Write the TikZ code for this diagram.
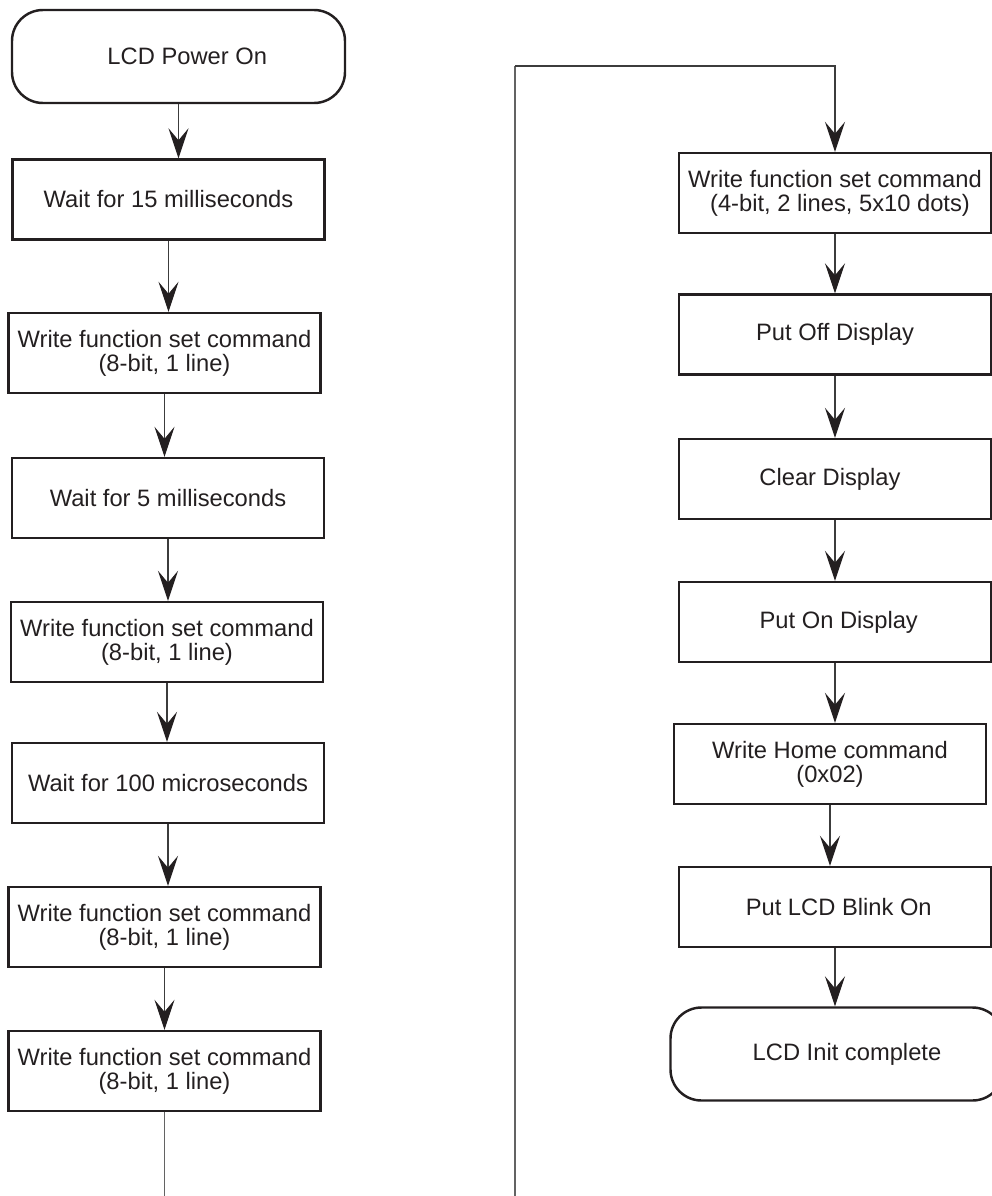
\documentclass[tikz,border=0pt]{standalone}
\usepackage{fontspec}
\setmainfont{Liberation Sans}
\usetikzlibrary{arrows.meta}
\definecolor{lcd-ink}{HTML}{231F20}
\definecolor{lcd-line}{HTML}{3C3C3C}

\begin{document}
\begin{tikzpicture}[
    procbox/.style={draw=lcd-ink, line width=1.4pt, minimum width=6.24cm, minimum height=1.6cm,
        inner sep=0pt, align=center, text=lcd-ink, font=\fontsize{13.5}{13.8}\selectfont},
    termbox/.style={procbox, rounded corners=0.62cm, minimum width=6.66cm, minimum height=1.86cm},
    flow/.style={draw=lcd-line, line width=0.6pt,
        -{Stealth[length=6mm, width=4mm, inset=2.4mm, color=lcd-ink]}},
    wire/.style={draw=lcd-line!80, line width=0.7pt}
]

    \useasboundingbox (0,0) rectangle (19.84,-23.92);

    % Left column
    \node[termbox] (pwr) at (3.57,-1.13) {\hspace*{0.35cm}LCD Power On};
    \node[procbox] (w15) at (3.37,-3.99) {Wait for 15 milliseconds};
    \node[procbox] (set1) at (3.29,-7.06) {Write function set command\\(8-bit, 1 line)};
    \node[procbox] (w5) at (3.36,-9.96) {Wait for 5 milliseconds};
    \node[procbox] (set2) at (3.34,-12.84) {Write function set command\\(8-bit, 1 line)};
    \node[procbox] (w100) at (3.36,-15.66) {Wait for 100 microseconds};
    \node[procbox] (set3) at (3.29,-18.54) {Write function set command\\(8-bit, 1 line)};
    \node[procbox] (set4) at (3.29,-21.42) {Write function set command\\(8-bit, 1 line)};

    % Right column
    \node[procbox] (set5) at (16.70,-3.86) {Write function set command\\\hspace*{0.2cm}(4-bit, 2 lines, 5x10 dots)};
    \node[procbox] (off) at (16.70,-6.69) {Put Off Display};
    \node[procbox] (clear) at (16.70,-9.58) {\hspace*{-0.2cm}Clear Display};
    \node[procbox] (on) at (16.70,-12.44) {\hspace*{0.15cm}Put On Display};
    \node[procbox] (home) at (16.60,-15.28) {Write Home command\\(0x02)};
    \node[procbox] (blink) at (16.70,-18.14) {\hspace*{0.15cm}Put LCD Blink On};
    \node[termbox] (done) at (16.74,-21.08) {\hspace*{0.4cm}LCD Init complete};

    % Arrows
    \foreach \a/\b in {pwr/w15, w15/set1, set1/w5, w5/set2, set2/w100, w100/set3, set3/set4,
                       set5/off, off/clear, clear/on, on/home, home/blink, blink/done}
        \draw[flow] (\a.south) -- (\a.south |- \b.north);

    % Page jump
    \coordinate (lend) at (3.27,-23.92);
    \coordinate (rbot) at (10.30,-23.92);
    \coordinate (rtop) at (10.30,-1.32);
    \draw[wire] (set4.south) -- (set4.south |- lend);
    \draw[wire] (rbot) -- (rtop);
    \draw[flow] (rtop) -| (set5.north);

\end{tikzpicture}
\end{document}
